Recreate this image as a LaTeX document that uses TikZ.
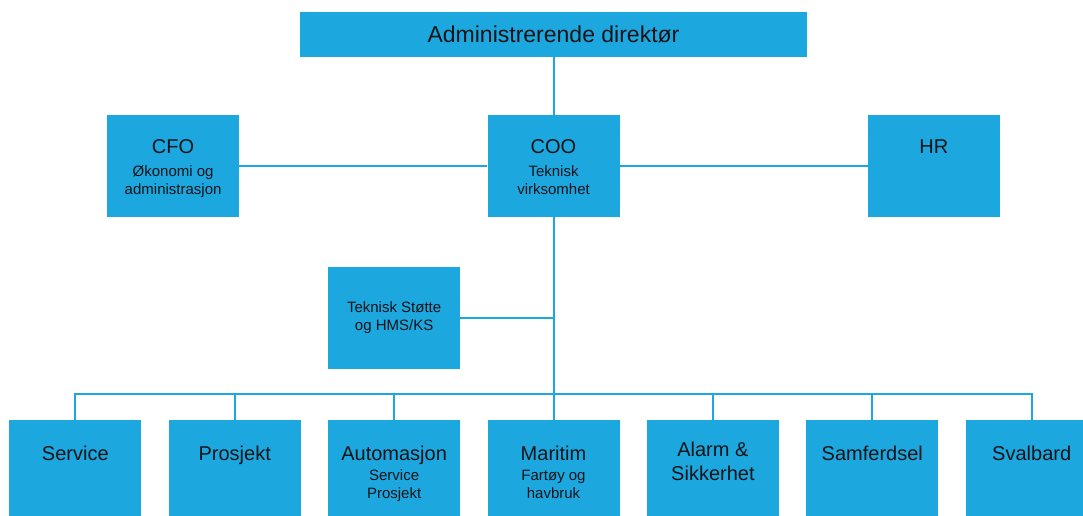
\documentclass[tikz,border=0pt]{standalone}
\usepackage{fontspec}
\setmainfont{Liberation Sans}
\usetikzlibrary{positioning}
\definecolor{orgblue}{RGB}{28,167,223}
\definecolor{ink}{RGB}{20,20,24}
\begin{document}
\begin{tikzpicture}[x=1pt,y=-1pt,node distance=27pt,
    unit/.style={fill=orgblue,minimum width=132pt,minimum height=102pt,inner sep=0pt,text=ink},
    head/.style={inner sep=0pt,align=center,text depth=0pt,text=ink,font=\fontsize{20}{24}\selectfont},
    sub/.style={inner sep=0pt,align=center,text=ink,font=\fontsize{15}{18}\selectfont},
    link/.style={draw=orgblue,line width=2pt}]
  \useasboundingbox (0,0) rectangle (1083,515);
  \node[unit] (coo) at (553.5,166) {};
  \node[unit,minimum width=507pt,minimum height=45pt,above=58pt of coo,font=\fontsize{23}{27}\selectfont] (ceo) {Administrerende direktør};
  \node[unit,left=248pt of coo] (cfo) {};
  \node[unit,right=248pt of coo] (hr) {};
  \node[unit,below=203pt of coo] (maritim) {};
  \node[unit,left=of maritim] (automasjon) {};
  \node[unit,left=of automasjon] (prosjekt) {};
  \node[unit,left=of prosjekt] (service) {};
  \node[unit,right=of maritim] (alarm) {};
  \node[unit,right=of alarm] (samferdsel) {};
  \node[unit,right=of samferdsel] (svalbard) {};
  \node[unit,above=51pt of automasjon,align=center,font=\fontsize{15}{18}\selectfont] (stotte) {Teknisk Støtte\\og HMS/KS};
  \coordinate[above=26pt of maritim.north] (bus);
  \coordinate (tap) at (stotte -| coo);

  \draw[link] (ceo) -- (coo);
  \draw[link] (cfo) -- (coo);
  \draw[link] (coo) -- (hr);
  \draw[link] (coo) -- (maritim);
  \draw[link] (stotte) -- (tap);
  \draw[link] (service) |- (bus) -| (svalbard);
  \foreach \n in {prosjekt,automasjon,alarm,samferdsel}
    \draw[link] (\n) -- (\n |- bus);

  \node[head,below=25pt of cfo.north] (cfo-h) {CFO};
  \node[sub,below=11pt of cfo-h] (cfo-s) {Økonomi og\\administrasjon};
  \node[head,below=25pt of coo.north] (coo-h) {COO};
  \node[sub,below=11pt of coo-h] (coo-s) {Teknisk\\virksomhet};
  \node[head,below=25pt of hr.north] (hr-h) {HR};
  \node[head,below=26pt of service.north] (service-h) {Service};
  \node[head,below=26pt of prosjekt.north] (prosjekt-h) {Prosjekt};
  \node[head,below=26pt of automasjon.north] (automasjon-h) {Automasjon};
  \node[sub,below=8pt of automasjon-h] (automasjon-s) {Service\\Prosjekt};
  \node[head,below=26pt of maritim.north] (maritim-h) {Maritim};
  \node[sub,below=9pt of maritim-h] (maritim-s) {Fartøy og\\havbruk};
  \node[head,below=22pt of alarm.north] (alarm-h) {Alarm \&\\Sikkerhet};
  \node[head,below=26pt of samferdsel.north] (samferdsel-h) {Samferdsel};
  \node[head,below=26pt of svalbard.north] (svalbard-h) {Svalbard};
\end{tikzpicture}
\end{document}
